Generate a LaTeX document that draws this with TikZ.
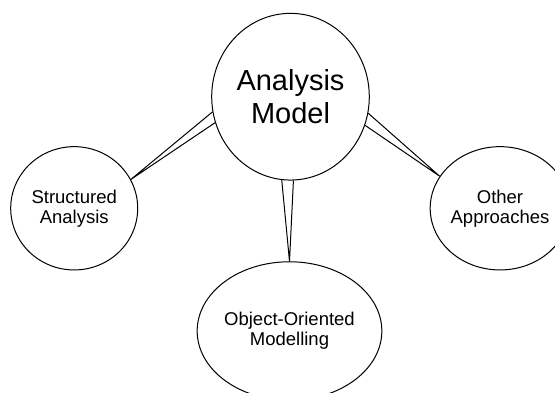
\documentclass[tikz,border=0pt]{standalone}
\usepackage{fontspec}
\setmainfont{Liberation Sans}
\usetikzlibrary{shapes.geometric}
\begin{document}
\begin{tikzpicture}[x=1pt,y=-1pt,
  bubble/.style={ellipse,draw,line width=1pt,inner sep=0pt,align=center,
    font={\fontsize{18.5}{20}\selectfont}},
  bigbubble/.style={bubble,font={\fontsize{29}{32.6}\selectfont}},
  wedge/.style={draw,line width=1pt,line join=miter}]
\clip (0,0) rectangle (555,392);
\fill[white] (0,0) rectangle (555,392);
\node[bigbubble,minimum width=157.6pt,minimum height=166.7pt] (am) at (290.5,96.7) {Analysis\\Model};
\node[bubble,minimum width=127pt,minimum height=123.3pt] (sa) at (74.2,208.3) {Structured\\Analysis};
\node[bubble,minimum width=128pt,minimum height=123.3pt] (oa) at (500,208.3) {Other\\Approaches};
\node[bubble,minimum width=137.6pt,minimum height=138.5pt] (oo) at (289.5,331) {Object-Oriented\\Modelling};
\draw[wedge] (am.191.8) -- (sa.27.6) -- (am.199.8);
\draw[wedge] (am.348.4) -- (oa.152.7) -- (am.339.4);
\draw[wedge] (am.264.4) -- (oo.90) -- (am.272.6);
\end{tikzpicture}
\end{document}
